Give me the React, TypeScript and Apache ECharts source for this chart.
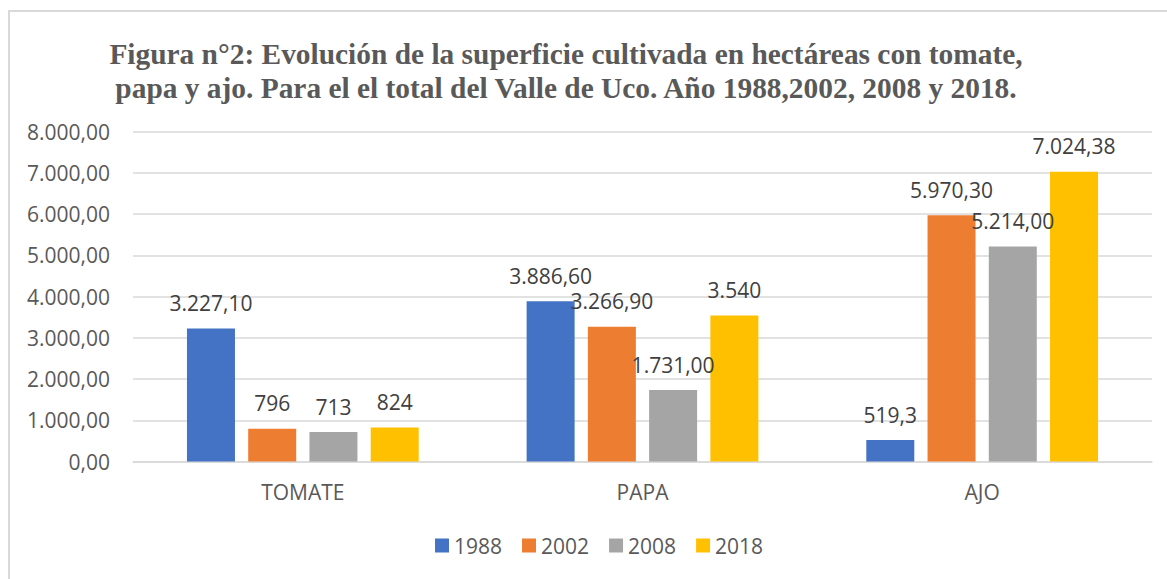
import React, { useEffect, useRef } from "react";
import * as echarts from "echarts";

const titleLines = [
  "Figura n°2: Evolución de la superficie cultivada en hectáreas con tomate,",
  "papa y ajo. Para el el total del Valle de Uco. Año 1988,2002, 2008 y 2018.",
];
const categories = ["TOMATE", "PAPA", "AJO"];
const years = ["1988", "2002", "2008", "2018"];
const colors = ["#4472C4", "#ED7D31", "#A5A5A5", "#FFC000"];

const v1988 = [3227.1, 3886.6, 519.3];
const v2002 = [796, 3266.9, 5970.3];
const v2008 = [713, 1731, 5214];
const v2018 = [824, 3540, 7024.38];

const l1988 = ["3.227,10", "3.886,60", "519,3"];
const l2002 = ["796", "3.266,90", "5.970,30"];
const l2008 = ["713", "1.731,00", "5.214,00"];
const l2018 = ["824", "3.540", "7.024,38"];

const yMin = 0;
const yMax = 8000;
const yStep = 1000;

const FONT = "'Open Sans', 'Liberation Sans', sans-serif";

function fmtAxis(v: number): string {
  const s = Math.round(v).toString().replace(/\B(?=(\d{3})+(?!\d))/g, ".");
  return s + ",00";
}

export default function App() {
  const ref = useRef<HTMLDivElement>(null);
  useEffect(() => {
    if (!ref.current) return;
    const chart = echarts.init(ref.current, null, { renderer: "svg" });
    const values = [v1988, v2002, v2008, v2018];
    const labels = [l1988, l2002, l2008, l2018];
    chart.setOption({
      animation: false,
      backgroundColor: "#ffffff",
      graphic: [
        {
          type: "rect",
          shape: { x: 9, y: 11, width: 1300, height: 700 },
          style: { fill: "none", stroke: "#d9d9d9", lineWidth: 2 },
          silent: true,
        },
        {
          type: "text",
          x: 566,
          y: 37,
          style: {
            text: titleLines.join("\n"),
            textAlign: "center",
            textVerticalAlign: "top",
            fontFamily: "'Liberation Serif', 'Times New Roman', serif",
            fontWeight: "bold",
            fontSize: 29.4,
            lineHeight: 34,
            fill: "#595959",
          },
        },
      ],
      grid: { left: 133, right: 15, top: 131.5, height: 330, containLabel: false },
      legend: {
        left: 435,
        top: 535,
        padding: 0,
        itemWidth: 14,
        itemHeight: 14,
        itemGap: 20,
        icon: "rect",
        textStyle: { fontFamily: FONT, fontSize: 21, color: "#595959" },
        data: years,
      },
      xAxis: {
        type: "category",
        data: categories,
        axisLine: { lineStyle: { color: "#d9d9d9", width: 1.5 } },
        axisTick: { show: false },
        axisLabel: { fontFamily: FONT, fontSize: 21, color: "#595959", margin: 20 },
      },
      yAxis: {
        type: "value",
        min: yMin,
        max: yMax,
        interval: yStep,
        axisLine: { show: false },
        axisTick: { show: false },
        splitLine: { lineStyle: { color: "#d9d9d9", width: 1.5 } },
        axisLabel: {
          fontFamily: FONT,
          fontSize: 21,
          color: "#595959",
          margin: 23,
          formatter: (v: number) => fmtAxis(v),
        },
      },
      series: years.map((y, i) => ({
        name: y,
        type: "bar",
        data: values[i],
        barWidth: 48,
        barGap: "27.6%",
        itemStyle: { color: colors[i] },
        label: {
          show: true,
          position: "top",
          distance: 15,
          fontFamily: FONT,
          fontSize: 21,
          color: "#404040",
          formatter: (p: any) => labels[i][p.dataIndex],
        },
      })),
    });
    return () => chart.dispose();
  }, []);
  return (
    <div
      ref={ref}
      style={{ position: "fixed", left: 0, top: 0, width: 1167, height: 579 }}
    />
  );
}
